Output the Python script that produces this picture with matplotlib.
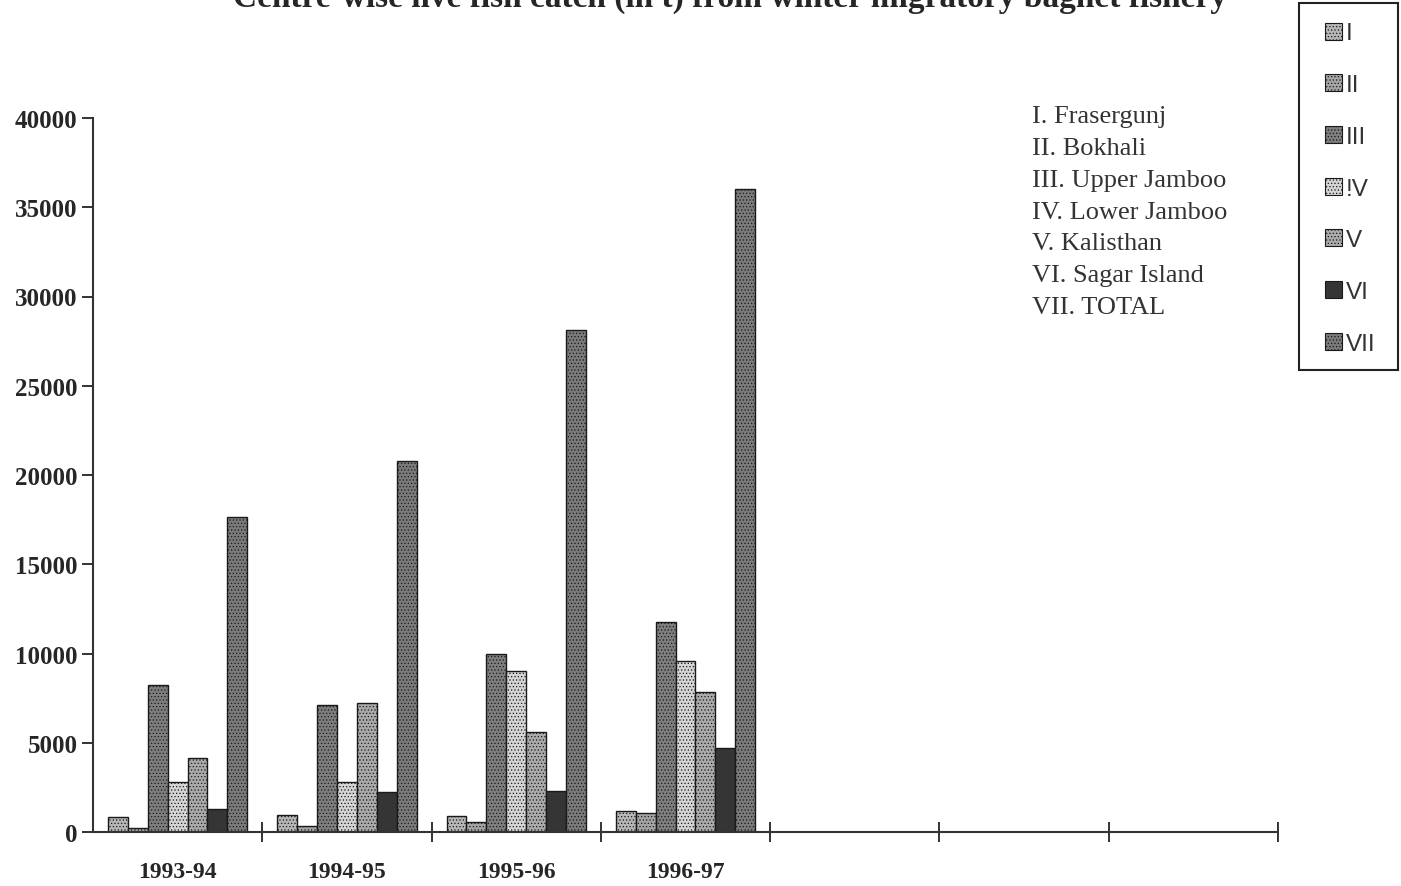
import matplotlib
matplotlib.use('Agg')
import matplotlib.pyplot as plt
from matplotlib.patches import Rectangle
import numpy as np

# ---------------- data ----------------
years = ['1993-94', '1994-95', '1995-96', '1996-97']
n_slots = 7  # category slots on the x axis (only four carry data)
legend_labels = ['I', 'II', 'III', '!V', 'V', 'VI', 'VII']
centre_names = ['I. Frasergunj', 'II. Bokhali', 'III. Upper Jamboo',
                'IV. Lower Jamboo', 'V. Kalisthan', 'VI. Sagar Island', 'VII. TOTAL']

frasergunj = [830, 950, 920, 1200]
bokhali = [230, 350, 560, 1060]
upper_jamboo = [8250, 7100, 9950, 11760]
lower_jamboo = [2800, 2800, 9030, 9600]
kalisthan = [4150, 7230, 5620, 7860]
sagar_island = [1300, 2250, 2300, 4700]
total = [17650, 20800, 28130, 36020]

series = [frasergunj, bokhali, upper_jamboo, lower_jamboo, kalisthan, sagar_island, total]

# ---------------- style ----------------
face = ['#b6b6b6', '#a4a4a4', '#7e7e7e', '#d4d4d4', '#aaaaaa', '#353535', '#7a7a7a']
hatches = ['.....', '.....', '.....', '.....', '.....', None, '.....']
plt.rcParams['hatch.linewidth'] = 0.5
serif = ['Liberation Serif', 'DejaVu Serif']
ink = '#262626'

W, H = 1401, 887
fig = plt.figure(figsize=(W / 100, H / 100), dpi=100)


def fx(px):
    return px / W


def fy(py):
    return 1 - py / H


ax = fig.add_axes([fx(93), fy(833), (1278 - 93) / W, (833 - 119) / H])

bw = 0.1175
x = np.arange(len(years)) + 0.5
for j, vals in enumerate(series):
    ax.bar(x + (j - 3) * bw, vals, width=bw, color=face[j], edgecolor='#1a1a1a',
           linewidth=1.0, hatch=hatches[j], zorder=2)

ax.set_xlim(0, n_slots)
ax.set_ylim(0, 40000)
ax.set_yticks(np.arange(0, 40001, 5000))
ax.set_yticklabels([str(v) for v in range(0, 40001, 5000)],
                   fontfamily=serif, fontweight='bold', fontsize=18, color=ink)
ax.set_xticks(np.arange(1, n_slots + 1))
ax.set_xticklabels([])
ax.set_xticks(x, minor=True)
ax.set_xticklabels(years, minor=True, fontfamily=serif, fontweight='bold',
                   fontsize=17, color=ink)
ax.tick_params(axis='x', which='minor', length=0, pad=21)
ax.tick_params(axis='x', which='major', direction='inout', length=14, width=1.4, color='#333333')
ax.tick_params(axis='y', direction='out', length=8, width=1.4, color='#333333', pad=3)
for s in ['top', 'right']:
    ax.spines[s].set_visible(False)
for s in ['left', 'bottom']:
    ax.spines[s].set_linewidth(1.5)
    ax.spines[s].set_color('#333333')

# title (cut off at the top edge, as in the scanned original)
fig.text(fx(730), fy(7),
         'Centre-wise live fish catch (in t) from winter migratory bagnet fishery',
         ha='center', va='baseline', fontfamily=serif, fontweight='bold',
         fontsize=24, color=ink)

# key block
fig.text(fx(1032), fy(106), '\n'.join(centre_names), ha='left', va='top',
         fontfamily=serif, fontsize=19, color='#333333', linespacing=1.58)

# legend box (drawn by hand to match the original's spacing)
fig.add_artist(Rectangle((fx(1299), fy(371)), (1398 - 1299) / W, (371 - 4) / H,
                         transform=fig.transFigure, facecolor='white',
                         edgecolor='#222222', linewidth=1.5, zorder=5))
for j, lab in enumerate(legend_labels):
    cy = 32 + j * 51.7
    fig.add_artist(Rectangle((fx(1325), fy(cy + 8.5)), 17 / W, 17 / H,
                             transform=fig.transFigure, facecolor=face[j],
                             edgecolor='#1a1a1a', hatch=hatches[j], linewidth=0.8,
                             zorder=6))
    fig.text(fx(1346), fy(cy), lab, ha='left', va='center_baseline',
             fontfamily=['Liberation Sans'], fontsize=17.5, color='#333333', zorder=6)

fig.savefig('out.png', dpi=100)
